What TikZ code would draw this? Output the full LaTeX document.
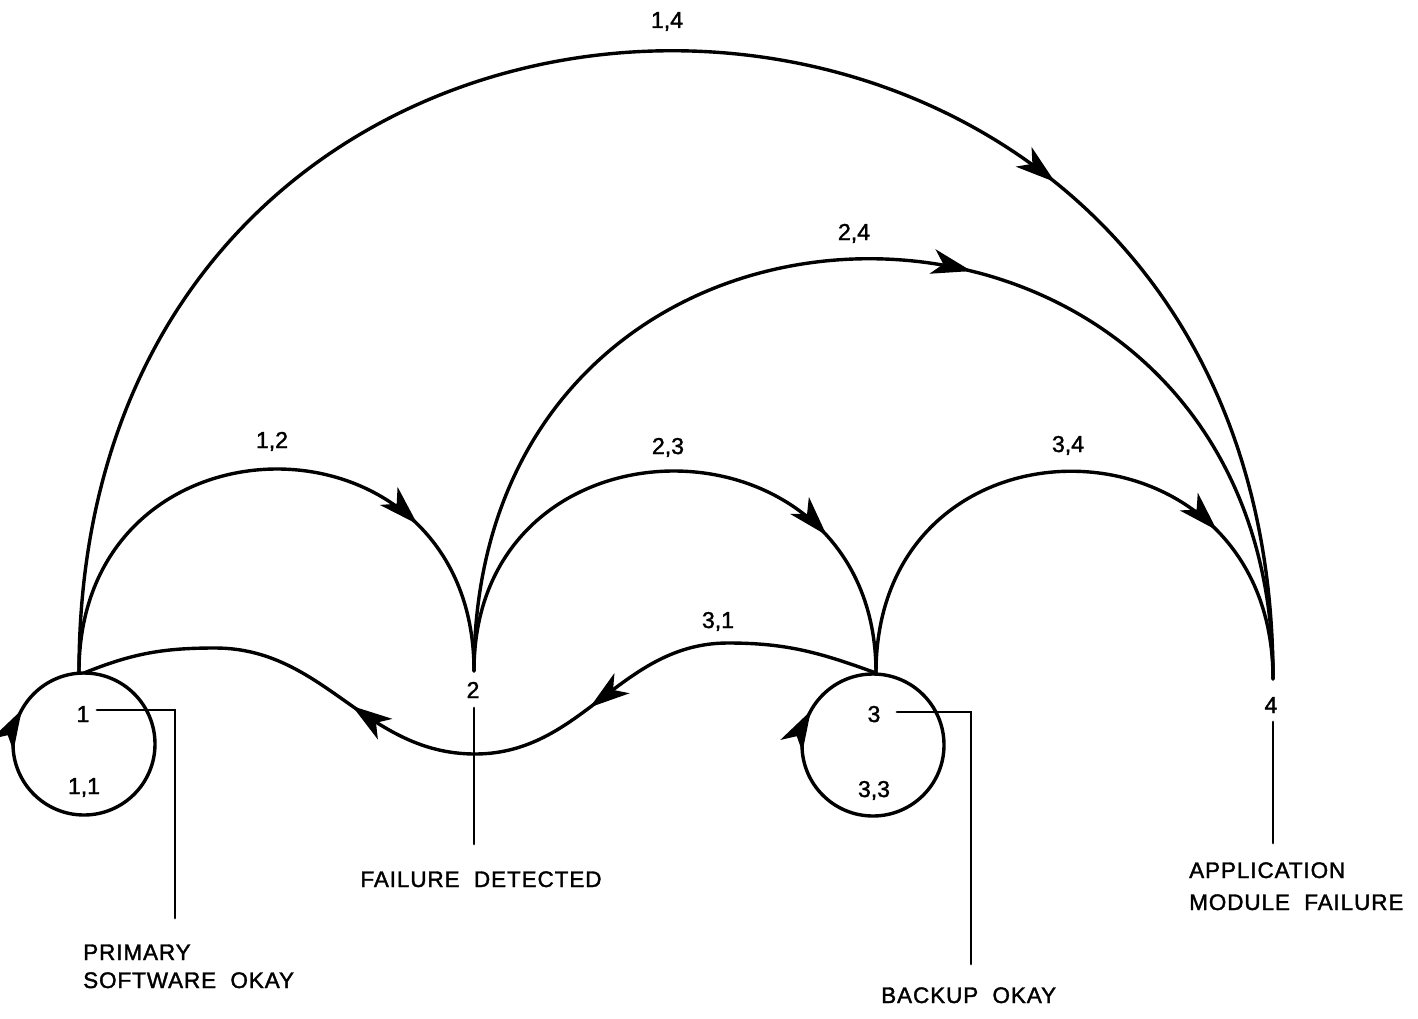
\documentclass[tikz,border=0pt]{standalone}
\usepackage{fontspec}
\setmainfont{Liberation Sans}[LetterSpace=4,WordSpace=2,FakeBold=1.6]
\newfontfamily\numfont{Liberation Sans}[FakeBold=1.6]
\usetikzlibrary{arrows.meta,decorations.markings}
\begin{document}
\begin{tikzpicture}[x=1pt,y=1pt,
  edge/.style={line width=3.4pt, line cap=round},
  lead/.style={line width=2.9pt, line cap=round},
  num/.style={font=\numfont\fontsize{23}{27}\selectfont, inner sep=0pt, anchor=base},
  caption/.style={font=\fontsize{22.5}{27}\selectfont, inner sep=0pt, anchor=base west},
  headtip/.tip={Stealth[length=40pt,width=25pt,inset=11pt]},
  arrowat/.style={postaction={decorate}, decoration={markings, mark=at position #1 with {\arrow{headtip}}}},
  arrowtwo/.style 2 args={postaction={decorate}, decoration={markings, mark=at position #1 with {\arrow{headtip}}, mark=at position #2 with {\arrow{headtip}}}},
]
\fill[white] (0,0) rectangle (1418,-1019);
\useasboundingbox (0,0) rectangle (1418,-1019);

% state points
\coordinate (n1) at (79,-672);
\coordinate (n2) at (474,-671);
\coordinate (n3) at (876,-673);
\coordinate (n4) at (1273,-679);
\coordinate (t1) at (84,-673);
\coordinate (t3) at (873,-674);

% waypoints of the 3,1 transition
\coordinate (w1) at (728,-643);
\coordinate (w2) at (475,-754);
\coordinate (w3) at (215,-648);

% state labels
\node[num] (l1) at (83,-722) {1};
\node[num] (l2) at (473,-698) {2};
\node[num] (l3) at (874,-722) {3};
\node[num] (l4) at (1271,-713) {4};

% transitions
\draw[edge, arrowat=0.745] (n1) .. controls +(0,270) and +(0,270) .. (n2);
\draw[edge, arrowat=0.765] (n2) .. controls +(0,268) and +(0,268) .. (n3);
\draw[edge, arrowat=0.745] (n3) .. controls +(0,273) and +(0,273) .. (n4);
\draw[edge, arrowat=0.575] (n2) .. controls +(0,555) and +(0,555) .. (n4);
\draw[edge, arrowat=0.71] (n1) .. controls +(0,833) and +(0,833) .. (n4);
\draw[edge, arrowtwo={0.36}{0.665}] (n3) to[out=160,in=0] (w1) to[out=180,in=0] (w2) to[out=180,in=0] (w3) to[out=180,in=22] (t1);

% self loops
\draw[edge, arrowat=0.83] (t1) arc[start angle=90, end angle=-270, radius=71pt];
\draw[edge, arrowat=0.83] (t3) arc[start angle=90, end angle=-270, radius=71pt];

% transition labels
\node[num] (e12) at (272,-448) {1,2};
\node[num] (e23) at (668,-454) {2,3};
\node[num] (e34) at (1068,-452) {3,4};
\node[num] (e24) at (854,-240) {2,4};
\node[num] (e14) at (667,-28) {1,4};
\node[num] (e31) at (718,-628) {3,1};
\node[num] (e11) at (84,-794) {1,1};
\node[num] (e33) at (874,-797) {3,3};

% leaders
\coordinate (k1a) at (97,-710);
\coordinate (k1b) at (175,-918);
\coordinate (k2a) at (474,-708);
\coordinate (k2b) at (474,-844);
\coordinate (k3a) at (897,-712);
\coordinate (k3b) at (971,-964);
\coordinate (k4a) at (1273,-722);
\coordinate (k4b) at (1273,-843);
\draw[lead] (k1a) -| (k1b);
\draw[lead] (k2a) -- (k2b);
\draw[lead] (k3a) -| (k3b);
\draw[lead] (k4a) -- (k4b);

% captions
\node[caption] (c1a) at (83,-960) {PRIMARY};
\node[caption] (c1b) at (83,-988) {SOFTWARE OKAY};
\node[caption, anchor=base] (c2) at (481,-887) {FAILURE DETECTED};
\node[caption] (c3) at (881,-1003) {BACKUP OKAY};
\node[caption] (c4a) at (1189,-878) {APPLICATION};
\node[caption] (c4b) at (1189,-910) {MODULE FAILURE};
\end{tikzpicture}
\end{document}
